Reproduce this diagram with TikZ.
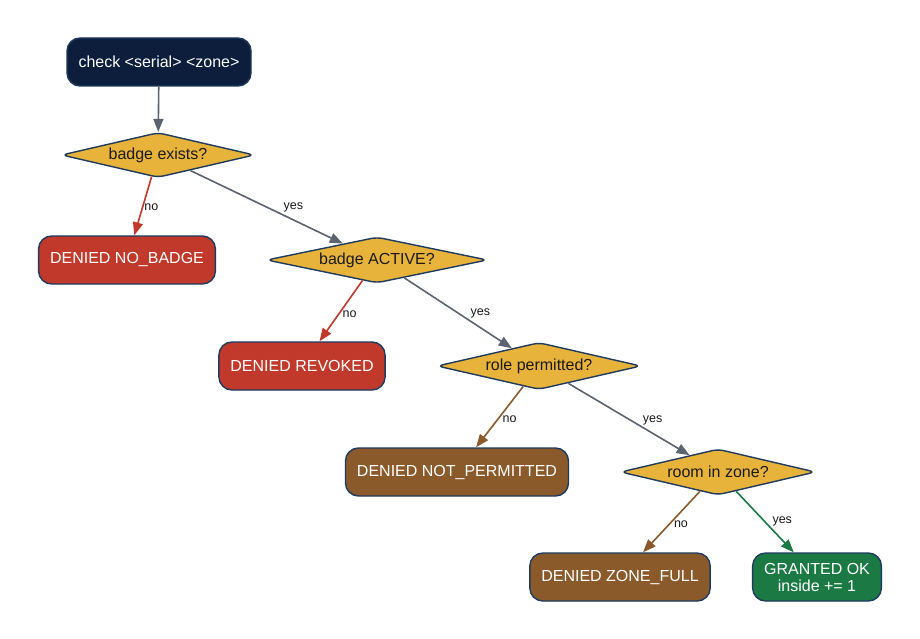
\documentclass[tikz,border=0pt]{standalone}
\usepackage{fontspec}
\setmainfont{Liberation Sans}
\usepackage{xcolor}
\usepackage{tikz}
\usetikzlibrary{shapes.geometric,arrows.meta}
\definecolor{navy}{HTML}{0C1E3B}
\definecolor{rim}{HTML}{1E3A5F}
\definecolor{gold}{HTML}{E8B33A}
\definecolor{denyred}{HTML}{C0392B}
\definecolor{holdbrown}{HTML}{8B5A2B}
\definecolor{okgreen}{HTML}{1B7A44}
\definecolor{wire}{HTML}{5C6370}
\definecolor{ink}{HTML}{1A1A1A}
\tikzset{
  box/.style={draw=rim, line width=1.4pt, rounded corners=13pt, text=white,
    font=\fontsize{16}{17}\selectfont, minimum height=48pt, inner xsep=11.5pt, align=center},
  start/.style={box, fill=navy},
  deny/.style={box, fill=denyred},
  hold/.style={box, fill=holdbrown},
  grant/.style={box, fill=okgreen},
  ask/.style={diamond, aspect=5, inner sep=0pt, draw=rim, line width=1.4pt, fill=gold,
    rounded corners=6pt, text=ink, font=\fontsize{16}{17}\selectfont},
  link/.style={draw=wire, line width=1.6pt, -{Triangle[length=13pt,width=10pt]}},
  redlink/.style={link, draw=denyred},
  brownlink/.style={link, draw=holdbrown},
  greenlink/.style={link, draw=okgreen},
  lbl/.style={text=ink, font=\fontsize{12.5}{14}\selectfont, inner sep=1pt}
}
\begin{document}
\begin{tikzpicture}[x=1pt, y=-1pt]
  \fill[white] (0,0) rectangle (920,639);
  % nodes
  \node[start] (check) at (159,62) {check <serial> <zone>};
  \node[ask, minimum width=193pt, minimum height=45pt] (exists) at (158,155) {badge exists?};
  \node[deny] (nobadge) at (127,260) {DENIED NO\_BADGE};
  \node[ask, minimum width=221pt, minimum height=46pt] (active) at (377,260) {badge ACTIVE?};
  \node[deny] (revoked) at (302,366) {DENIED REVOKED};
  \node[ask, minimum width=204pt, minimum height=47pt] (role) at (539,366) {role permitted?};
  \node[hold] (notperm) at (457,472) {DENIED NOT\_PERMITTED};
  \node[ask, minimum width=195pt, minimum height=46pt] (room) at (718,472) {room in zone?};
  \node[hold] (zonefull) at (620,577) {DENIED ZONE\_FULL};
  \node[grant] (granted) at (817,577) {GRANTED OK\\inside += 1};
  % edges
  \draw[link] (check) -- (exists);
  \draw[redlink] (exists) -- node[lbl, pos=0.52, anchor=west] {no} (nobadge);
  \draw[link] (exists) -- node[lbl, pos=0.6, anchor=south west] {yes} (active);
  \draw[redlink] (active) -- node[lbl, pos=0.55, anchor=west, xshift=2pt] {no} (revoked);
  \draw[link] (active) -- node[lbl, pos=0.6, anchor=south west] {yes} (role);
  \draw[brownlink] (role) -- node[lbl, pos=0.54, anchor=west, xshift=3pt] {no} (notperm);
  \draw[link] (role) -- node[lbl, pos=0.6, anchor=south west] {yes} (room);
  \draw[brownlink] (room) -- node[lbl, pos=0.54, anchor=west, xshift=3pt] {no} (zonefull);
  \draw[greenlink] (room) -- node[lbl, pos=0.6, anchor=south west] {yes} (granted);
\end{tikzpicture}
\end{document}
